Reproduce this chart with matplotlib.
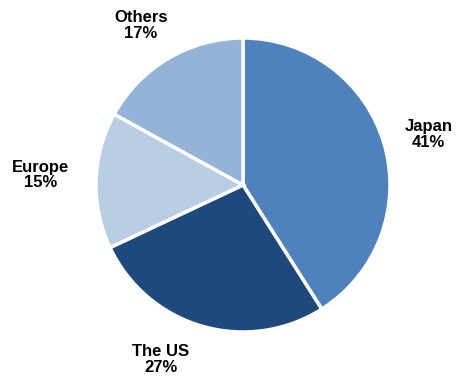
import matplotlib.pyplot as plt
import numpy as np

# dados do gráfico
regioes = ['Japan', 'The US', 'Europe', 'Others']
valores = [41, 27, 15, 17]
cores = ['#4F81BD', '#1F497D', '#B9CDE5', '#95B3D7']

plt.rcParams['font.family'] = ['Liberation Sans', 'DejaVu Sans']

fig = plt.figure(figsize=(4.61, 3.80), dpi=100)
# centro ~ (243, 185) px, raio ~ 147 px
ax = fig.add_axes([(243 - 147) / 461, (195 - 147) / 380, 294 / 461, 294 / 380])

wedges, _ = ax.pie(valores, colors=cores, startangle=90, counterclock=False,
                   wedgeprops=dict(edgecolor='white', linewidth=2.5))

# posição dos rótulos: (desvio do ângulo, distância ao centro)
ajustes = [(-1, 1.31), (-9, 1.31), (-1, 1.38), (2, 1.29)]
for w, r, v, (da, dist) in zip(wedges, regioes, valores, ajustes):
    ang = np.deg2rad((w.theta1 + w.theta2) / 2 + da)
    ax.text(dist * np.cos(ang), dist * np.sin(ang), f'{r}\n{v}%',
            ha='center', va='center', fontsize=12, fontweight='bold',
            linespacing=1.05, clip_on=False)

ax.set_aspect('equal')
ax.set_xlim(-1, 1)
ax.set_ylim(-1, 1)

fig.savefig('out.png', dpi=100)
